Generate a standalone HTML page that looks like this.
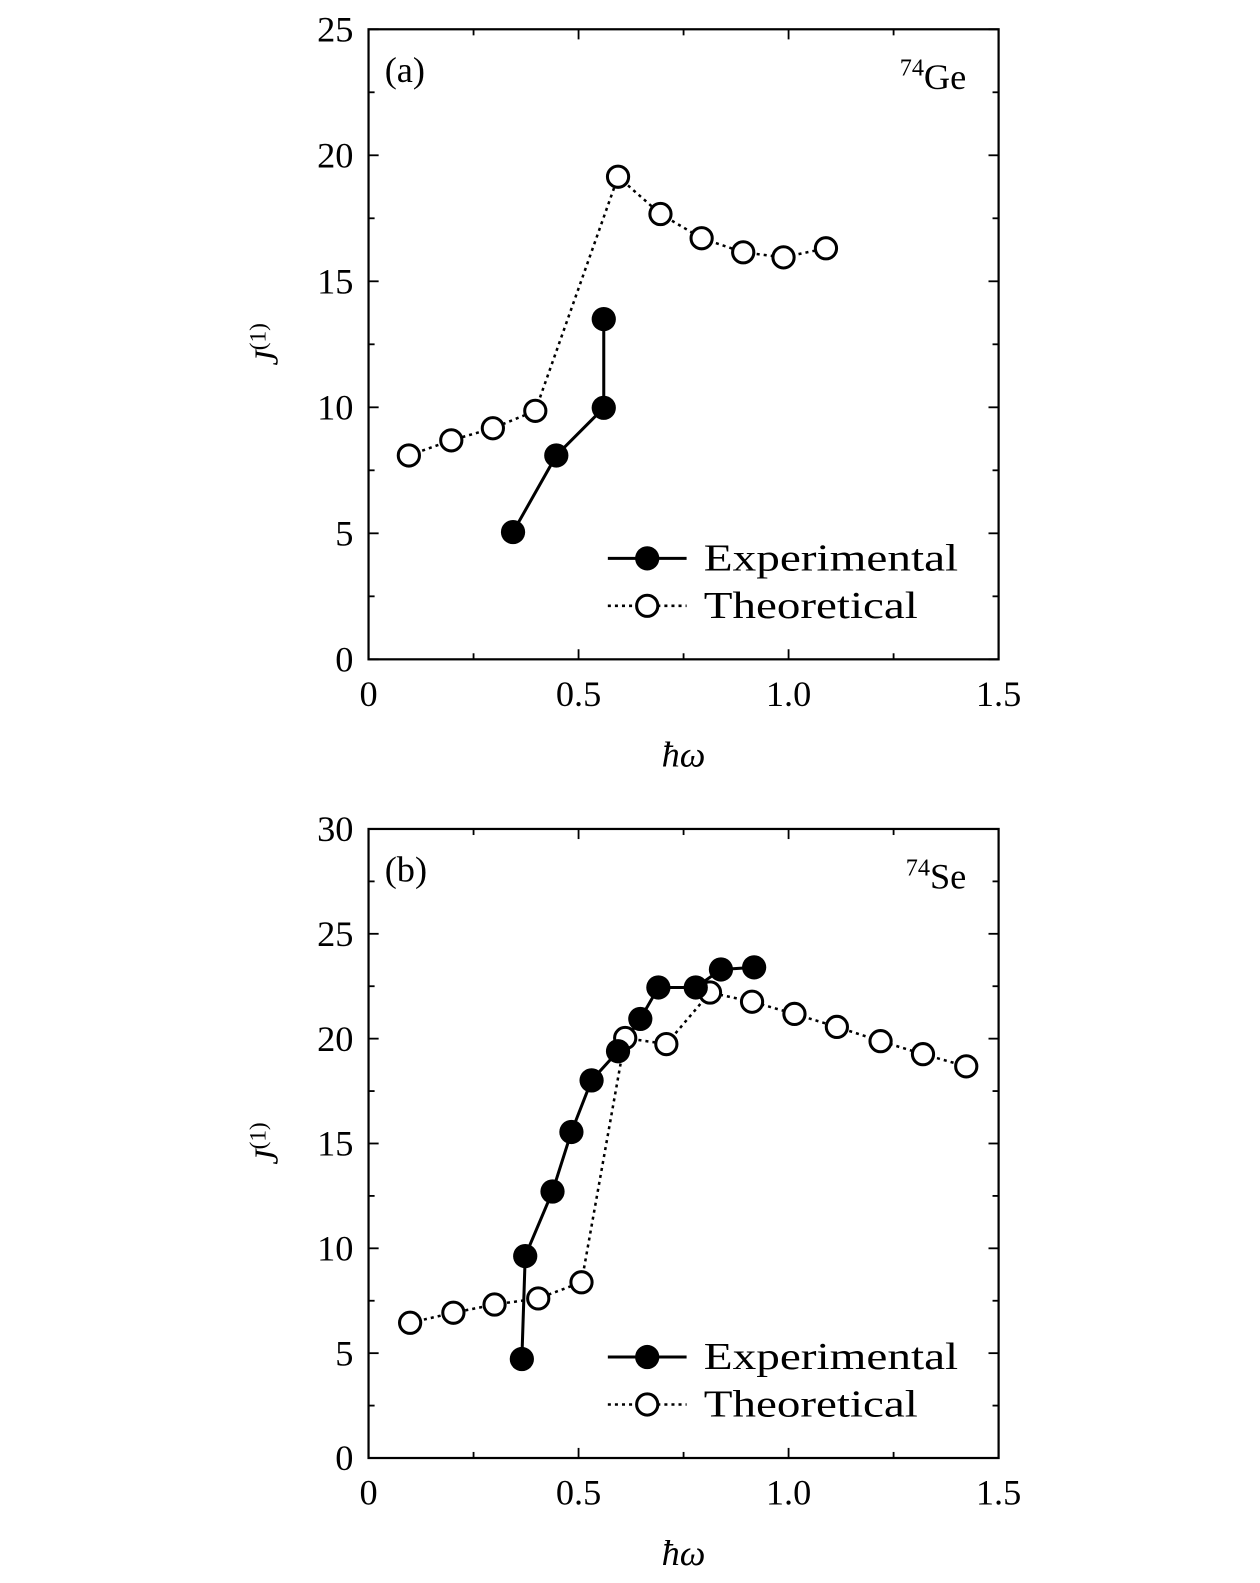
<!DOCTYPE html>
<html><head><meta charset="utf-8"><style>
html,body{margin:0;padding:0;background:#fff;overflow:hidden;width:1260px;height:1583px;}
svg{display:block;}
svg text{font-family:"Liberation Serif",serif;fill:#000;}
</style></head><body>
<svg id="chart" width="1260" height="1583" xmlns="http://www.w3.org/2000/svg"><g id="root" transform="scale(1.0097)"></g></svg>
<script>
const xTicks=[0,0.5,1.0,1.5];
const xTickLabels=["0","0.5","1.0","1.5"];
const yTicksA=[0,5,10,15,20,25];
const yTicksB=[0,5,10,15,20,25,30];
const expXA=[0.344,0.447,0.560,0.560];
const expYA=[5.05,8.09,9.98,13.5];
const theoXA=[0.096,0.197,0.296,0.397,0.594,0.695,0.793,0.892,0.988,1.089];
const theoYA=[8.09,8.69,9.17,9.86,19.15,17.67,16.71,16.15,15.95,16.31];
const expXB=[0.365,0.373,0.438,0.483,0.531,0.594,0.647,0.690,0.779,0.839,0.918];
const expYB=[4.72,9.63,12.71,15.55,18.01,19.40,20.94,22.44,22.44,23.30,23.40];
const theoXB=[0.099,0.202,0.300,0.404,0.507,0.611,0.709,0.813,0.913,1.014,1.115,1.219,1.320,1.423];
const theoYB=[6.45,6.93,7.32,7.61,8.38,20.03,19.74,22.20,21.76,21.18,20.56,19.88,19.26,18.68];

const svg=document.getElementById('root');
const NS='http://www.w3.org/2000/svg';
function mk(tag,attrs,parent){const e=document.createElementNS(NS,tag);for(const k in attrs)e.setAttribute(k,attrs[k]);(parent||svg).appendChild(e);return e;}

function panel(id,top,bottom,ymax,yTicks,ex,ey,tx,ty,label,iso){
  const L=365,R=989;
  const sx=v=>L+v/1.5*(R-L);
  const sy=v=>bottom-v/ymax*(bottom-top);
  const g=mk('g',{});
  
  
  const frame=mk('rect',{x:L,y:top,width:R-L,height:bottom-top,fill:'none',stroke:'#000','stroke-width':2.2},g);
  
  
  for(let v=0;v<=1.5001;v+=0.25){
    const len=(Math.abs(v*2-Math.round(v*2))<1e-6)?10:6;
    mk('line',{x1:sx(v),x2:sx(v),y1:bottom,y2:bottom-len,stroke:'#000','stroke-width':1.8},g);
    mk('line',{x1:sx(v),x2:sx(v),y1:top,y2:top+len,stroke:'#000','stroke-width':1.8},g);
  }
  for(let v=0;v<=ymax+0.001;v+=2.5){
    const len=(Math.abs(v/5-Math.round(v/5))<1e-6)?10:6;
    mk('line',{x1:L,x2:L+len,y1:sy(v),y2:sy(v),stroke:'#000','stroke-width':1.8},g);
    mk('line',{x1:R,x2:R-len,y1:sy(v),y2:sy(v),stroke:'#000','stroke-width':1.8},g);
  }
  xTicks.forEach((v,i)=>{const t=mk('text',{x:sx(v),y:bottom+46,'font-size':36,'text-anchor':'middle'},g);t.textContent=xTickLabels[i];
    });
  yTicks.forEach(v=>{const t=mk('text',{x:L-15,y:sy(v)+12,'font-size':36,'text-anchor':'end'},g);t.textContent=String(v);
    });
  const xl=mk('text',{x:677,y:bottom+106,'font-size':36,'font-style':'italic','text-anchor':'middle'},g);xl.textContent='ħω';
  
  const yl=mk('text',{transform:`translate(275,${(top+bottom)/2}) rotate(-90)`,'font-size':34,'text-anchor':'middle'},g);
  yl.innerHTML='<tspan font-style="italic">J</tspan><tspan font-size="23" dy="-12">(1)</tspan>';
  
  const pl=mk('text',{x:381,y:top+52,'font-size':36},g);pl.textContent=label;
  
  const il=mk('text',{x:957,y:top+59,'font-size':36,'text-anchor':'end'},g);
  il.innerHTML='<tspan font-size="24" dy="-13">74</tspan><tspan dy="13">'+iso+'</tspan>';
  
  const tp=mk('polyline',{points:tx.map((v,i)=>sx(v)+','+sy(ty[i])).join(' '),fill:'none',stroke:'#000','stroke-width':2.5,'stroke-dasharray':'3,4'},g);
  
  const ep=mk('polyline',{points:ex.map((v,i)=>sx(v)+','+sy(ey[i])).join(' '),fill:'none',stroke:'#000','stroke-width':3},g);
  
  tx.forEach((v,i)=>{const c=mk('circle',{cx:sx(v),cy:sy(ty[i]),r:10.5,fill:'#fff',stroke:'#000','stroke-width':3},g);
    });
  ex.forEach((v,i)=>{const c=mk('circle',{cx:sx(v),cy:sy(ey[i]),r:12,fill:'#000'},g);
    });
  const ly1=bottom-100, ly2=bottom-53;
  const lg=mk('g',{},g);
  mk('line',{x1:602,x2:680,y1:ly1,y2:ly1,stroke:'#000','stroke-width':3},lg);
  mk('circle',{cx:641,cy:ly1,r:12,fill:'#000'},lg);
  const t1=mk('text',{x:697,y:ly1+12,'font-size':38,textLength:252,lengthAdjust:'spacingAndGlyphs'},lg);t1.textContent='Experimental';
  
  mk('line',{x1:602,x2:680,y1:ly2,y2:ly2,stroke:'#000','stroke-width':2.5,'stroke-dasharray':'3,4'},lg);
  mk('circle',{cx:641,cy:ly2,r:10.5,fill:'#fff',stroke:'#000','stroke-width':3},lg);
  const t2=mk('text',{x:697,y:ly2+12,'font-size':38,textLength:212,lengthAdjust:'spacingAndGlyphs'},lg);t2.textContent='Theoretical';
  
}
panel('a',29,653,25,yTicksA,expXA,expYA,theoXA,theoYA,'(a)','Ge');
panel('b',821,1444,30,yTicksB,expXB,expYB,theoXB,theoYB,'(b)','Se');
</script>
</body></html>
